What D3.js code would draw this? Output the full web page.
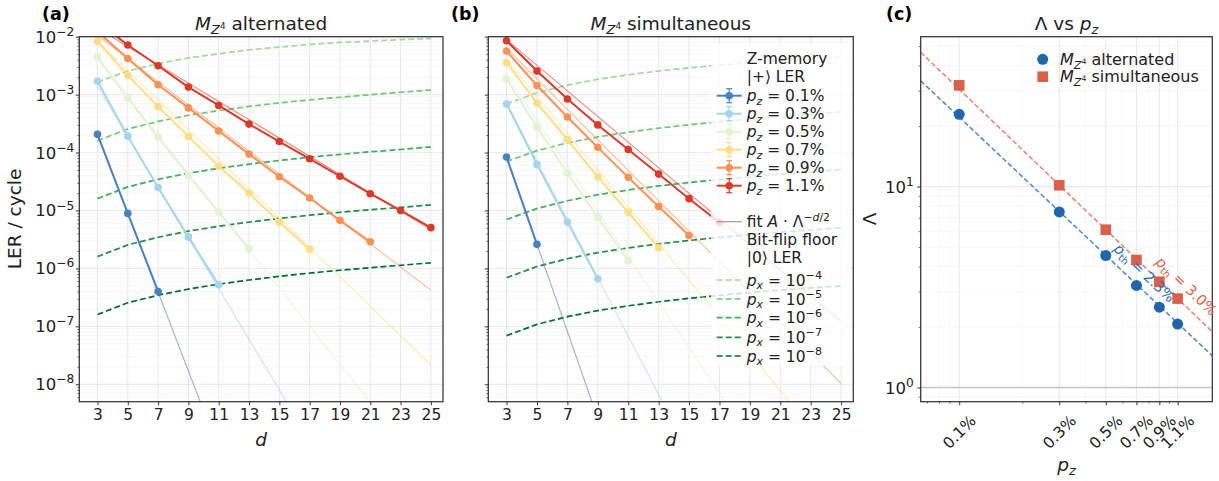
<!DOCTYPE html>
<html>
<head>
<meta charset="utf-8">
<script src="https://cdn.jsdelivr.net/npm/d3@7.9.0/dist/d3.min.js"></script>
<style>
  body { margin: 0; background: #fff; }
  svg { font-family: "DejaVu Sans", sans-serif; }
</style>
</head>
<body>
<svg id="chart" width="1219" height="481"></svg>
<script>
// ---- data ----
const dVals = [3, 5, 7, 9, 11, 13, 15, 17, 19, 21, 23, 25];
const pzLabels = ['0.1%', '0.3%', '0.5%', '0.7%', '0.9%', '1.1%'];
const pzPct = [0.1, 0.3, 0.5, 0.7, 0.9, 1.1];
const pzColors = ['#4a7fc1', '#a6d4ea', '#e3f2d3', '#fedd85', '#f99155', '#d93b2b'];

// LER per cycle, alternated schedule (one array per p_z, starting at d=3)
const altLER = [
  [2.06e-4, 8.9e-6, 4.0e-7],
  [1.7e-3, 1.92e-4, 2.5e-5, 3.5e-6, 5.2e-7],
  [4.5e-3, 8.7e-4, 1.85e-4, 4.1e-5, 9.4e-6, 2.2e-6],
  [8.3e-3, 2.15e-3, 6.2e-4, 1.9e-4, 5.8e-5, 2.0e-5, 6.3e-6, 2.14e-6],
  [1.22e-2, 4.2e-3, 1.48e-3, 5.9e-4, 2.36e-4, 9.4e-5, 3.83e-5, 1.64e-5, 6.75e-6, 2.88e-6],
  [1.8e-2, 7.2e-3, 3.15e-3, 1.35e-3, 6.5e-4, 3.1e-4, 1.55e-4, 7.8e-5, 3.9e-5, 1.95e-5, 1.0e-5, 5.05e-6]
];
// LER per cycle, simultaneous schedule
const simLER = [
  [8.36e-5, 2.6e-6],
  [6.9e-4, 6.25e-5, 6.3e-6, 6.6e-7],
  [1.86e-3, 2.75e-4, 4.4e-5, 7.6e-6, 1.35e-6],
  [3.6e-3, 7.15e-4, 1.67e-4, 3.8e-5, 9.3e-6, 2.27e-6],
  [5.65e-3, 1.44e-3, 4.1e-4, 1.23e-4, 3.73e-5, 1.17e-5, 3.7e-6],
  [8.5e-3, 2.55e-3, 8.4e-4, 3.0e-4, 1.13e-4, 4.25e-5, 1.6e-5, 6.2e-6]
];

// fitted Lambda per p_z (panel c) and fit amplitude at d=3
const lamAlt = [22.9, 7.48, 4.54, 3.22, 2.51, 2.07];
const lamSim = [31.9, 10.15, 6.1, 4.31, 3.36, 2.77];
const fit3Alt = [2.04e-4, 1.4e-3, 4.0e-3, 8.3e-3, 1.05e-2, 1.4e-2];
const fit3Sim = [8.3e-5, 7.2e-4, 2.2e-3, 4.0e-3, 6.3e-3, 8.9e-3];

// threshold fits Lambda = (p_th / p)^alpha
const pthAlt = 2.33, alphaAlt = 0.984;
const pthSim = 3.05, alphaSim = 1.0;

// bit-flip floor |0> LER, p_x = 1e-4 ... 1e-8
const pxLabels = ['\u22124', '\u22125', '\u22126', '\u22127', '\u22128'];
const floorColors = ['#a1d99b', '#74c476', '#41ab5d', '#238b45', '#006d2c'];
const floorAlt = [
  [1.65e-3, 2.55e-3, 3.42e-3, 4.3e-3, 5.07e-3, 5.94e-3, 6.6e-3, 7.36e-3, 7.95e-3, 8.4e-3, 8.9e-3, 9.3e-3],
  [1.6e-4, 2.55e-4, 3.45e-4, 4.4e-4, 5.3e-4, 6.25e-4, 7.2e-4, 8.1e-4, 9.0e-4, 1.0e-3, 1.1e-3, 1.2e-3],
  [1.6e-5, 2.55e-5, 3.45e-5, 4.4e-5, 5.35e-5, 6.3e-5, 7.3e-5, 8.3e-5, 9.3e-5, 1.03e-4, 1.13e-4, 1.25e-4],
  [1.6e-6, 2.55e-6, 3.45e-6, 4.4e-6, 5.35e-6, 6.3e-6, 7.3e-6, 8.3e-6, 9.3e-6, 1.03e-5, 1.13e-5, 1.25e-5],
  [1.6e-7, 2.55e-7, 3.45e-7, 4.4e-7, 5.35e-7, 6.3e-7, 7.3e-7, 8.3e-7, 9.3e-7, 1.03e-6, 1.13e-6, 1.25e-6]
];
const floorSim = [
  [6.9e-4, 1.08e-3, 1.46e-3, 1.84e-3, 2.2e-3, 2.56e-3, 2.9e-3, 3.25e-3, 3.6e-3, 3.9e-3, 4.2e-3, 4.5e-3],
  [7.0e-5, 1.08e-4, 1.47e-4, 1.86e-4, 2.25e-4, 2.64e-4, 3.02e-4, 3.4e-4, 3.8e-4, 4.2e-4, 4.6e-4, 5.0e-4],
  [7.0e-6, 1.08e-5, 1.47e-5, 1.87e-5, 2.26e-5, 2.65e-5, 3.04e-5, 3.43e-5, 3.83e-5, 4.22e-5, 4.61e-5, 5.1e-5],
  [6.9e-7, 1.08e-6, 1.47e-6, 1.87e-6, 2.26e-6, 2.65e-6, 3.04e-6, 3.43e-6, 3.83e-6, 4.22e-6, 4.61e-6, 5.0e-6],
  [6.9e-8, 1.08e-7, 1.47e-7, 1.87e-7, 2.26e-7, 2.65e-7, 3.04e-7, 3.43e-7, 3.83e-7, 4.22e-7, 4.61e-7, 5.0e-7]
];

// Lambda vs p_z tick labels
const lamTicks = ['0.1%', '0.3%', '0.5%', '0.7%', '0.9%', '1.1%'];

// ---- setup ----
const svg = d3.select('#chart');
const FS = 15.5;     // tick / legend text
const TFS = 18.5;    // titles and axis labels
const spine = '#333';
const gridMajor = '#e2e2e2';
const gridMinor = '#f2f2f2';

// rich text: parts = [{t, i, y (em shift), s (scale)}]
function rich(sel, parts, fs) {
  let cur = 0;
  parts.forEach(p => {
    const shift = (p.y || 0) * fs;
    const ts = sel.append('tspan').text(p.t)
      .attr('font-size', fs * (p.s || 1))
      .attr('dy', shift - cur);
    if (p.i) ts.attr('font-style', 'italic');
    cur = shift;
  });
  return sel;
}

function panelLabel(x, txt) {
  svg.append('text').attr('x', x).attr('y', 19.5)
    .attr('font-size', 17.5).attr('font-weight', 'bold').text(txt);
}

const yTop = 36.7, yBot = 401.7;
const yLER = d3.scaleLog().domain([5e-9, 1e-2]).range([yBot, yTop]);

function lerPanel(x0, x1, id, ler, fit3, lam, floors, showYLabels, titleWord) {
  const x = d3.scaleLinear().domain([1.8, 25.8]).range([x0, x1]);
  const g = svg.append('g');

  g.append('clipPath').attr('id', id).append('rect')
    .attr('x', x0).attr('y', yTop).attr('width', x1 - x0).attr('height', yBot - yTop);

  // grid
  const minorVals = [];
  for (let e = -9; e <= -3; e++) for (let k = 2; k <= 9; k++) {
    const v = k * Math.pow(10, e);
    if (v > 5e-9 && v < 1e-2) minorVals.push(v);
  }
  const majorVals = [1e-8, 1e-7, 1e-6, 1e-5, 1e-4, 1e-3, 1e-2];
  g.selectAll('.ymin').data(minorVals).join('line')
    .attr('x1', x0).attr('x2', x1).attr('y1', d => yLER(d)).attr('y2', d => yLER(d))
    .attr('stroke', gridMinor).attr('stroke-width', 0.6);
  g.selectAll('.ymaj').data(majorVals).join('line')
    .attr('x1', x0).attr('x2', x1).attr('y1', d => yLER(d)).attr('y2', d => yLER(d))
    .attr('stroke', gridMajor).attr('stroke-width', 0.8);
  g.selectAll('.xg').data(dVals).join('line')
    .attr('x1', d => x(d)).attr('x2', d => x(d)).attr('y1', yTop).attr('y2', yBot)
    .attr('stroke', gridMajor).attr('stroke-width', 0.8);

  const plot = g.append('g').attr('clip-path', `url(#${id})`);
  const line = d3.line().x(d => x(d[0])).y(d => yLER(d[1]));

  // bit-flip floors
  floors.forEach((vals, i) => {
    plot.append('path').datum(vals.map((v, j) => [dVals[j], v]))
      .attr('d', line).attr('fill', 'none')
      .attr('stroke', floorColors[i]).attr('stroke-width', 1.7)
      .attr('stroke-dasharray', '6,3');
  });

  // fit lines A * Lambda^(-d/2), drawn across d = 3..25
  fit3.forEach((a, i) => {
    const ends = [3, 25].map(d => [d, a * Math.pow(lam[i], -(d - 3) / 2)]);
    plot.append('path').datum(ends).attr('d', line).attr('fill', 'none')
      .attr('stroke', pzColors[i]).attr('stroke-opacity', 0.6).attr('stroke-width', 1.1);
  });

  // data
  ler.forEach((vals, i) => {
    const pts = vals.map((v, j) => [dVals[j], v]);
    plot.append('path').datum(pts).attr('d', line).attr('fill', 'none')
      .attr('stroke', pzColors[i]).attr('stroke-width', 2);
    plot.selectAll(null).data(pts).join('circle')
      .attr('cx', d => x(d[0])).attr('cy', d => yLER(d[1])).attr('r', 3.8)
      .attr('fill', pzColors[i]);
  });

  // axes
  const xAxis = g.append('g').attr('transform', `translate(0,${yBot})`)
    .call(d3.axisBottom(x).tickValues(dVals).tickSize(3.5).tickSizeOuter(0).tickPadding(4));
  xAxis.select('.domain').remove();
  xAxis.selectAll('line').attr('stroke', spine);
  xAxis.selectAll('text').attr('font-size', FS).attr('font-family', '"DejaVu Sans"').attr('fill', '#222');

  const yAxis = g.append('g').attr('transform', `translate(${x0},0)`)
    .call(d3.axisLeft(yLER).tickValues(majorVals).tickSize(3.5).tickFormat(''));
  yAxis.select('.domain').remove();
  yAxis.selectAll('line').attr('stroke', spine);
  const yMinor = g.append('g').attr('transform', `translate(${x0},0)`)
    .call(d3.axisLeft(yLER).tickValues(minorVals).tickSize(2).tickFormat(''));
  yMinor.select('.domain').remove();
  yMinor.selectAll('line').attr('stroke', spine).attr('stroke-width', 0.7);

  if (showYLabels) {
    majorVals.forEach(v => {
      const t = g.append('text').attr('x', x0 - 5).attr('y', yLER(v) + 6)
        .attr('text-anchor', 'end').attr('fill', '#222');
      rich(t, [{ t: '10' }, { t: '\u2212' + (-Math.round(Math.log10(v))), y: -0.42, s: 0.74 }], 16.5);
    });
  }

  g.append('rect').attr('x', x0).attr('y', yTop).attr('width', x1 - x0).attr('height', yBot - yTop)
    .attr('fill', 'none').attr('stroke', spine).attr('stroke-width', 1.25);

  // title
  const tt = svg.append('text').attr('x', (x0 + x1) / 2).attr('y', 29.5)
    .attr('text-anchor', 'middle').attr('fill', '#222');
  rich(tt, [{ t: 'M', i: 1 }, { t: 'Z', i: 1, y: 0.25, s: 0.7 }, { t: '4', y: -0.05, s: 0.48 },
            { t: ' ' + titleWord, y: 0 }], TFS);

  // x label
  svg.append('text').attr('x', (x0 + x1) / 2).attr('y', 446).attr('text-anchor', 'middle')
    .attr('font-size', TFS).attr('font-style', 'italic').attr('fill', '#222').text('d');
  return x;
}

lerPanel(79.3, 443, 'clipA', altLER, fit3Alt, lamAlt, floorAlt, true, 'alternated');
lerPanel(488.3, 853.3, 'clipB', simLER, fit3Sim, lamSim, floorSim, false, 'simultaneous');

panelLabel(42, '(a)');
panelLabel(451, '(b)');
panelLabel(886, '(c)');

svg.append('text').attr('transform', 'translate(21,219) rotate(-90)')
  .attr('text-anchor', 'middle').attr('font-size', TFS).attr('fill', '#222').text('LER / cycle');

// ---- legend in panel (b) ----
const lg = svg.append('g');
lg.append('rect').attr('x', 711).attr('y', 44).attr('width', 140).attr('height', 322)
  .attr('rx', 3).attr('fill', '#fff').attr('fill-opacity', 0.8);
const hx0 = 716.7, hx1 = 741.7, tx = 746.7;
function lgText(y, parts) {
  const t = lg.append('text').attr('x', tx).attr('y', y + 5.5).attr('fill', '#222');
  rich(t, parts, FS);
}
lgText(58, [{ t: 'Z-memory' }]);
lgText(76.7, [{ t: '|+\u27E9 LER' }]);
const pzRows = [95.7, 113.7, 131.7, 149.7, 167.7, 185.7];
pzRows.forEach((y, i) => {
  const c = pzColors[i], xm = (hx0 + hx1) / 2;
  lg.append('line').attr('x1', hx0).attr('x2', hx1).attr('y1', y).attr('y2', y)
    .attr('stroke', c).attr('stroke-width', 2);
  lg.append('line').attr('x1', xm).attr('x2', xm).attr('y1', y - 7).attr('y2', y + 7)
    .attr('stroke', c).attr('stroke-width', 1.2);
  [y - 7, y + 7].forEach(yc => lg.append('line').attr('x1', xm - 3).attr('x2', xm + 3)
    .attr('y1', yc).attr('y2', yc).attr('stroke', c).attr('stroke-width', 1.2));
  lg.append('circle').attr('cx', xm).attr('cy', y).attr('r', 3.8).attr('fill', c);
  lgText(y, [{ t: 'p', i: 1 }, { t: 'z', i: 1, y: 0.22, s: 0.7 }, { t: ' = ' + pzLabels[i], y: 0 }]);
});
lg.append('line').attr('x1', hx0).attr('x2', hx1).attr('y1', 221.7).attr('y2', 221.7)
  .attr('stroke', '#999').attr('stroke-width', 1.2);
lgText(221.7, [{ t: 'fit ' }, { t: 'A', i: 1 }, { t: ' \u00B7 \u039B' },
  { t: '\u2212', y: -0.42, s: 0.7 }, { t: 'd', i: 1, y: -0.42, s: 0.7 }, { t: '/2', y: -0.42, s: 0.7 }]);
lgText(239.3, [{ t: 'Bit-flip floor' }]);
lgText(257.3, [{ t: '|0\u27E9 LER' }]);
const pxRows = [280, 299, 317.7, 337.3, 356];
pxRows.forEach((y, i) => {
  lg.append('line').attr('x1', hx0).attr('x2', hx1).attr('y1', y).attr('y2', y)
    .attr('stroke', floorColors[i]).attr('stroke-width', 1.7).attr('stroke-dasharray', '6,3');
  lgText(y, [{ t: 'p', i: 1 }, { t: 'x', i: 1, y: 0.22, s: 0.7 }, { t: ' = 10', y: 0 },
    { t: pxLabels[i], y: -0.42, s: 0.72 }]);
});

// ---- panel (c): Lambda vs p_z ----
const cx0 = 920.7, cx1 = 1212.3;
const xc = d3.scaleLog().domain([0.0655, 1.61]).range([cx0, cx1]);
const yc = d3.scaleLog().domain([0.85, 55.7]).range([yBot, yTop]);
const gc = svg.append('g');
gc.append('clipPath').attr('id', 'clipC').append('rect')
  .attr('x', cx0).attr('y', yTop).attr('width', cx1 - cx0).attr('height', yBot - yTop);

const cxMinor = [0.07, 0.08, 0.09, 0.2, 0.4, 0.6, 0.8, 1.0];
const cyMinor = [0.9, 2, 3, 4, 5, 6, 7, 8, 9, 20, 30, 40, 50];
const cyMajor = [1, 10];
gc.selectAll('.cxm').data(cxMinor).join('line')
  .attr('x1', d => xc(d)).attr('x2', d => xc(d)).attr('y1', yTop).attr('y2', yBot)
  .attr('stroke', gridMinor).attr('stroke-width', 0.6);
gc.selectAll('.cym').data(cyMinor).join('line')
  .attr('x1', cx0).attr('x2', cx1).attr('y1', d => yc(d)).attr('y2', d => yc(d))
  .attr('stroke', gridMinor).attr('stroke-width', 0.6);
gc.selectAll('.cxM').data(pzPct).join('line')
  .attr('x1', d => xc(d)).attr('x2', d => xc(d)).attr('y1', yTop).attr('y2', yBot)
  .attr('stroke', gridMajor).attr('stroke-width', 0.8);
gc.selectAll('.cyM').data(cyMajor).join('line')
  .attr('x1', cx0).attr('x2', cx1).attr('y1', d => yc(d)).attr('y2', d => yc(d))
  .attr('stroke', gridMajor).attr('stroke-width', 0.8);

const pc = gc.append('g').attr('clip-path', 'url(#clipC)');
pc.append('line').attr('x1', cx0).attr('x2', cx1).attr('y1', yc(1)).attr('y2', yc(1))
  .attr('stroke', '#c4c4c4').attr('stroke-width', 1.5);

const cLine = d3.line().x(d => xc(d[0])).y(d => yc(d[1]));
[[pthAlt, alphaAlt, '#4d86c9'], [pthSim, alphaSim, '#e8806e']].forEach(([pth, al, col]) => {
  const ends = xc.domain().map(p => [p, Math.pow(pth / p, al)]);
  pc.append('path').datum(ends).attr('d', cLine).attr('fill', 'none')
    .attr('stroke', col).attr('stroke-width', 1.5).attr('stroke-dasharray', '5,2.5');
});

pc.selectAll('.sq').data(lamSim.map((v, i) => [pzPct[i], v])).join('rect')
  .attr('x', d => xc(d[0]) - 5.3).attr('y', d => yc(d[1]) - 5.3)
  .attr('width', 10.6).attr('height', 10.6).attr('fill', '#dc5f4b');
pc.selectAll('.ci').data(lamAlt.map((v, i) => [pzPct[i], v])).join('circle')
  .attr('cx', d => xc(d[0])).attr('cy', d => yc(d[1])).attr('r', 5.5).attr('fill', '#2166ac');

// threshold annotations, placed just above their fit lines
const ang = Math.atan2(yc(Math.pow(pthAlt / 1.0, alphaAlt)) - yc(Math.pow(pthAlt / 0.1, alphaAlt)),
  xc(1.0) - xc(0.1)) * 180 / Math.PI;
[[pthAlt, alphaAlt, '#2f6fb8', '2.3%', 1141, 12], [pthSim, alphaSim, '#e0604c', '3.0%', 1183, 14]]
  .forEach(([pth, al, col, lab, px, off]) => {
    const p = xc.invert(px);
    const ay = yc(Math.pow(pth / p, al)) - off;
    const t = svg.append('text').attr('transform', `translate(${px},${ay}) rotate(${ang})`)
      .attr('text-anchor', 'middle').attr('dy', '0.35em').attr('fill', col);
    rich(t, [{ t: 'p', i: 1 }, { t: 'th', y: 0.22, s: 0.7 }, { t: ' = ' + lab, y: 0 }], 14.5);
  });

// axes (c)
const cxAx = gc.append('g').attr('transform', `translate(0,${yBot})`)
  .call(d3.axisBottom(xc).tickValues(pzPct).tickSize(3.5).tickFormat(''));
cxAx.select('.domain').remove();
cxAx.selectAll('line').attr('stroke', spine);
const cxMi = gc.append('g').attr('transform', `translate(0,${yBot})`)
  .call(d3.axisBottom(xc).tickValues(cxMinor).tickSize(2).tickFormat(''));
cxMi.select('.domain').remove();
cxMi.selectAll('line').attr('stroke', spine).attr('stroke-width', 0.7);
lamTicks.forEach((lab, i) => {
  svg.append('text').attr('transform', `translate(${xc(pzPct[i])},432) rotate(-45)`)
    .attr('text-anchor', 'middle').attr('dy', '0.35em').attr('font-size', FS)
    .attr('fill', '#222').text(lab);
});
const cyAx = gc.append('g').attr('transform', `translate(${cx0},0)`)
  .call(d3.axisLeft(yc).tickValues(cyMajor).tickSize(3.5).tickFormat(''));
cyAx.select('.domain').remove();
cyAx.selectAll('line').attr('stroke', spine);
const cyMi = gc.append('g').attr('transform', `translate(${cx0},0)`)
  .call(d3.axisLeft(yc).tickValues(cyMinor).tickSize(2).tickFormat(''));
cyMi.select('.domain').remove();
cyMi.selectAll('line').attr('stroke', spine).attr('stroke-width', 0.7);
cyMajor.forEach(v => {
  const t = svg.append('text').attr('x', cx0 - 7).attr('y', yc(v) + 6)
    .attr('text-anchor', 'end').attr('fill', '#222');
  rich(t, [{ t: '10' }, { t: String(Math.round(Math.log10(v))), y: -0.42, s: 0.74 }], 16.5);
});
gc.append('rect').attr('x', cx0).attr('y', yTop).attr('width', cx1 - cx0).attr('height', yBot - yTop)
  .attr('fill', 'none').attr('stroke', spine).attr('stroke-width', 1.25);

// legend (c)
svg.append('circle').attr('cx', 1042.7).attr('cy', 59.3).attr('r', 5.5).attr('fill', '#2166ac');
svg.append('rect').attr('x', 1037.4).attr('y', 71.4).attr('width', 10.6).attr('height', 10.6).attr('fill', '#dc5f4b');
[['alternated', 59.3], ['simultaneous', 76.7]].forEach(([w, y]) => {
  const t = svg.append('text').attr('x', 1060).attr('y', y + 5.5).attr('fill', '#222');
  rich(t, [{ t: 'M', i: 1 }, { t: 'Z', i: 1, y: 0.25, s: 0.7 }, { t: '4', y: -0.05, s: 0.48 },
           { t: ' ' + w, y: 0 }], 16);
});

// title + labels (c)
const ct = svg.append('text').attr('x', (cx0 + cx1) / 2).attr('y', 29.5)
  .attr('text-anchor', 'middle').attr('fill', '#222');
rich(ct, [{ t: '\u039B vs ' }, { t: 'p', i: 1 }, { t: 'z', i: 1, y: 0.22, s: 0.7 }], TFS);
svg.append('text').attr('transform', 'translate(876,219) rotate(-90)')
  .attr('text-anchor', 'middle').attr('font-size', TFS).attr('fill', '#222').text('\u039B');
const cxl = svg.append('text').attr('x', (cx0 + cx1) / 2).attr('y', 471)
  .attr('text-anchor', 'middle').attr('fill', '#222');
rich(cxl, [{ t: 'p', i: 1 }, { t: 'z', i: 1, y: 0.22, s: 0.7 }], TFS);
</script>
</body>
</html>
